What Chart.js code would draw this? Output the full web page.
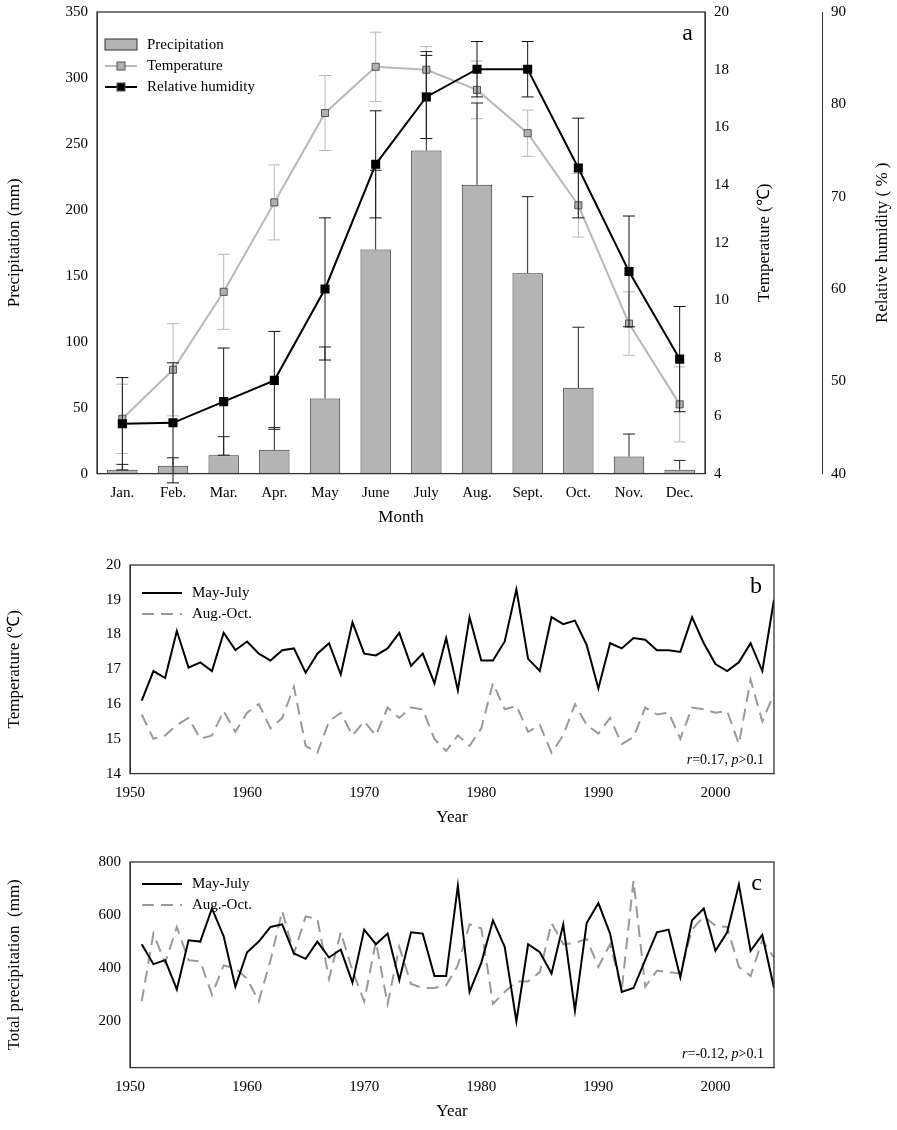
<!DOCTYPE html>
<html><head><meta charset="utf-8">
<script src="https://cdn.jsdelivr.net/npm/chart.js@4/dist/chart.umd.min.js"></script>
<style>
body{margin:0;background:#fff;width:897px;height:1130px;position:relative;overflow:hidden}
.p{position:absolute;left:0}
</style></head><body>
<div class="p" style="top:0;width:897px;height:545px"><canvas id="ca"></canvas></div>
<div class="p" style="top:548px;width:897px;height:290px"><canvas id="cb"></canvas></div>
<div class="p" style="top:843px;width:897px;height:287px"><canvas id="cc"></canvas></div>
<script>
const months=["Jan.","Feb.","Mar.","Apr.","May","June","July","Aug.","Sept.","Oct.","Nov.","Dec."];
const precip=[3,6,14,18,57,170,245,219,152,65,13,3];
const precipErr=[4,6,14,17,39,60,75,62,58,46,17,7];
const temp=[5.9,7.6,10.3,13.4,16.5,18.1,18.0,17.3,15.8,13.3,9.2,6.4];
const tempErr=[1.2,1.6,1.3,1.3,1.3,1.2,0.8,1.0,0.8,1.1,1.1,1.3];
const humid=[45.4,45.5,47.8,50.1,60,73.5,80.8,83.8,83.8,73.1,61.9,52.4];
const humidErr=[5,6.5,5.8,5.3,7.7,5.8,4.5,3,3,5.4,6,5.7];
const years=[];for(let y=1951;y<=2005;y++)years.push(y);
const tMJ=[16.1,16.95,16.75,18.1,17.05,17.2,16.95,18.05,17.55,17.8,17.45,17.25,17.55,17.6,16.9,17.45,17.75,16.85,18.35,17.45,17.4,17.6,18.05,17.1,17.45,16.6,17.9,16.4,18.5,17.25,17.25,17.8,19.3,17.3,16.95,18.5,18.3,18.4,17.7,16.45,17.75,17.6,17.9,17.85,17.55,17.55,17.5,18.5,17.75,17.15,16.95,17.2,17.75,16.95,19.0];
const tAO=[15.7,15.0,15.1,15.4,15.6,15.0,15.1,15.8,15.2,15.75,16.0,15.3,15.6,16.5,14.8,14.6,15.5,15.75,15.1,15.5,15.1,15.9,15.6,15.9,15.85,15.0,14.65,15.1,14.8,15.3,16.6,15.85,15.95,15.2,15.4,14.6,15.1,16.0,15.4,15.15,15.6,14.85,15.05,15.9,15.7,15.75,15.0,15.9,15.85,15.75,15.8,14.85,16.7,15.5,16.3];
const pMJ=[490,415,430,320,505,500,625,520,330,460,500,555,565,455,435,500,440,470,345,545,490,530,355,535,530,370,370,710,310,420,580,480,200,490,460,380,565,240,570,645,530,310,325,430,535,545,365,580,625,465,535,715,465,525,325];
const pAO=[275,530,420,555,430,425,300,410,400,360,275,430,615,455,595,585,360,535,390,275,500,265,480,340,325,325,335,410,565,550,265,310,350,350,385,570,490,495,510,405,490,320,730,330,390,385,380,545,595,560,555,405,370,505,440];
const tempTicks=[4,6,8,10,12,14,16,18,20];
const humTicks=[40,50,60,70,80,90];
const yearTicks=[1950,1960,1970,1980,1990,2000];

const F="'Liberation Serif', 'Times New Roman', serif";
Chart.defaults.font.family=F;Chart.defaults.font.size=15;Chart.defaults.color="#000";
Chart.defaults.animation=false;

const frame={id:'frame',afterDraw(c,a,o){const {ctx,chartArea:ca}=c;ctx.save();ctx.strokeStyle='#333';ctx.lineWidth=1.3;ctx.strokeRect(ca.left,ca.top,ca.width,ca.height);
 ctx.fillStyle='#000';ctx.font='24px '+F;ctx.textAlign='right';ctx.textBaseline='top';ctx.fillText(o.letter,ca.right-12,ca.top+10);
 o.items.forEach((it,i)=>{const y=ca.top+o.ly+i*21,x=ca.left+o.lx;ctx.setLineDash(it.dash||[]);ctx.strokeStyle=it.color;ctx.lineWidth=it.lw;
   if(it.box){ctx.fillStyle='#b4b4b4';ctx.fillRect(x,y-6,32,11);ctx.strokeStyle='#333';ctx.lineWidth=1;ctx.strokeRect(x,y-6,32,11);}
   else{ctx.beginPath();ctx.moveTo(x,y);ctx.lineTo(x+o.llen,y);ctx.stroke();ctx.setLineDash([]);
     if(it.pt){ctx.fillStyle=it.pt;ctx.fillRect(x+o.llen/2-4,y-4,8,8);ctx.strokeStyle='#555';ctx.lineWidth=1;ctx.strokeRect(x+o.llen/2-4,y-4,8,8);}}
   ctx.fillStyle='#000';ctx.font='15px '+F;ctx.textAlign='left';ctx.textBaseline='middle';ctx.fillText(it.t,x+o.llen+10,y);});
 if(o.r){const x=ca.right-10,y=ca.bottom-10;ctx.textBaseline='alphabetic';
   const s=[["r","italic "],["="+o.r+", ",""],["p","italic "],[">0.1",""]];let w=s.reduce((a,p)=>{ctx.font=p[1]+'14px '+F;return a+ctx.measureText(p[0]).width},0);
   let cx=x-w;ctx.textAlign='left';s.forEach(p=>{ctx.font=p[1]+'14px '+F;ctx.fillText(p[0],cx,y);cx+=ctx.measureText(p[0]).width;});}
 if(o.rt){ctx.font='17px '+F;ctx.textAlign='center';ctx.textBaseline='middle';o.rt.forEach(t=>{ctx.save();ctx.translate(t.x,(ca.top+ca.bottom)/2);ctx.rotate(-Math.PI/2);ctx.fillText(t.t,0,0);ctx.restore();});}
 ctx.restore();}};

const errPlug={id:'err',afterDatasetsDraw(c){const ctx=c.ctx;const xs=c.scales.x,s=c.scales.y;ctx.save();ctx.strokeStyle='#222';ctx.lineWidth=1;
 precip.forEach((v,i)=>{const x=xs.getPixelForValue(i),y0=s.getPixelForValue(v),yt=s.getPixelForValue(v+precipErr[i]);ctx.beginPath();ctx.moveTo(x,y0);ctx.lineTo(x,yt);ctx.moveTo(x-6,yt);ctx.lineTo(x+6,yt);ctx.stroke();});
 ctx.restore();},
 beforeDatasetDraw(c,a){const ctx=c.ctx,xs=c.scales.x;if(a.index===1||a.index===2){const vals=a.index===1?temp:humid,errs=a.index===1?tempErr:humidErr,s=a.index===1?c.scales.yT:c.scales.yH,col=a.index===1?'#b8b8b8':'#111';
  ctx.save();ctx.strokeStyle=col;ctx.lineWidth=1;vals.forEach((v,i)=>{const x=xs.getPixelForValue(i),yt=s.getPixelForValue(v+errs[i]),yb=s.getPixelForValue(v-errs[i]);ctx.beginPath();ctx.moveTo(x,yt);ctx.lineTo(x,yb);ctx.moveTo(x-6,yt);ctx.lineTo(x+6,yt);ctx.moveTo(x-6,yb);ctx.lineTo(x+6,yb);ctx.stroke();});ctx.restore();}}};

new Chart(document.getElementById('ca'),{data:{labels:months,datasets:[
 {type:'bar',data:precip,backgroundColor:'#b4b4b4',borderColor:'#333',borderWidth:1,barPercentage:0.6,categoryPercentage:1,yAxisID:'y',order:3},
 {type:'line',data:temp,borderColor:'#b8b8b8',borderWidth:2,pointStyle:'rect',pointRadius:5,pointBackgroundColor:'#b0b0b0',pointBorderColor:'#555',pointBorderWidth:1,yAxisID:'yT',order:2},
 {type:'line',data:humid,borderColor:'#000',borderWidth:2,pointStyle:'rect',pointRadius:5,pointBackgroundColor:'#000',pointBorderColor:'#000',yAxisID:'yH',order:1}]},
 options:{responsive:true,maintainAspectRatio:false,layout:{padding:{top:2,left:0,right:0,bottom:13}},plugins:{legend:{display:false},tooltip:{enabled:false},
  frame:{letter:'a',lx:8,ly:33,llen:32,rt:[{t:'Temperature (℃)',x:765},{t:'Relative humidity ( % )',x:883}],items:[{t:'Precipitation',box:true},{t:'Temperature',color:'#b8b8b8',lw:2,pt:'#b0b0b0'},{t:'Relative humidity',color:'#000',lw:2,pt:'#000'}]}},
  scales:{x:{grid:{display:false,drawTicks:true,tickLength:6},border:{color:'#333'},ticks:{font:{size:15},padding:4},title:{display:true,text:'Month',font:{size:17},padding:{top:2}}},
   y:{min:0,max:350,ticks:{stepSize:50,font:{size:15}},grid:{display:false,tickLength:6},border:{color:'#333'},title:{display:true,text:'Precipitation (mm)',font:{size:17}},afterFit(s){s.width=97}},
   yT:{position:'right',weight:0,min:4,max:20,afterBuildTicks(s){s.ticks=tempTicks.map(v=>({value:v}))},grid:{display:false,tickLength:6},border:{color:'#333'},ticks:{font:{size:15}},afterFit(s){s.width=117}},
   yH:{position:'right',weight:1,min:40,max:90,afterBuildTicks(s){s.ticks=humTicks.map(v=>({value:v}))},grid:{display:false,tickLength:6},border:{color:'#333'},ticks:{font:{size:15}},afterFit(s){s.width=75}}}},
 plugins:[errPlug,frame]});

function ts(id,a,b,ymin,ymax,ticks,ytitle,letter,r,pad){
 new Chart(document.getElementById(id),{type:'line',data:{datasets:[
  {data:years.map((y,i)=>({x:y,y:a[i]})),borderColor:'#000',borderWidth:2,pointRadius:0,tension:0},
  {data:years.map((y,i)=>({x:y,y:b[i]})),borderColor:'#999',borderWidth:2,borderDash:[12,7],pointRadius:0,tension:0}]},
  options:{responsive:true,maintainAspectRatio:false,layout:{padding:{top:pad.top,right:pad.right,bottom:pad.bottom}},plugins:{legend:{display:false},tooltip:{enabled:false},
   frame:{letter,lx:12,ly:pad.ly,llen:40,r,items:[{t:'May-July',color:'#000',lw:2},{t:'Aug.-Oct.',color:'#999',lw:2,dash:[12,7]}]}},
   scales:{x:{type:'linear',min:1950,max:2005,afterBuildTicks(s){s.ticks=yearTicks.map(v=>({value:v}))},grid:{display:false,tickLength:6},border:{color:'#333'},ticks:{font:{size:15},padding:4,callback:v=>String(v)},title:{display:true,text:'Year',font:{size:17},padding:{top:2}}},
    y:{min:ymin,max:ymax,afterBuildTicks(s){s.ticks=ticks.map(v=>({value:v}))},grid:{display:false,tickLength:6},border:{color:'#333'},ticks:{font:{size:15}},title:{display:true,text:ytitle,font:{size:17}},afterFit(s){s.width=130}}}},
  plugins:[frame]});
}
ts('cb',tMJ,tAO,14,20,[14,15,16,17,18,19,20],'Temperature (℃)','b','0.17',{top:17,right:123,bottom:6,ly:28});
ts('cc',pMJ,pAO,25,800,[200,400,600,800],'Total precipitation  (mm)','c','-0.12',{top:19,right:123,bottom:4,ly:22});
</script></body></html>
